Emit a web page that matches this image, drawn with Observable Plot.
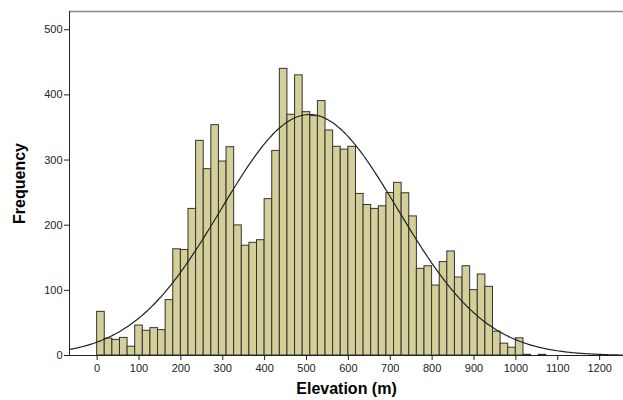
<!DOCTYPE html>
<html>
<head>
<meta charset="utf-8">
<script src="https://cdn.jsdelivr.net/npm/d3@7"></script>
<script src="https://cdn.jsdelivr.net/npm/@observablehq/plot@0.6"></script>
<style>
  html, body { margin: 0; padding: 0; background: #fff; }
  #chart svg { display: block; }
  g[aria-label="y-axis label"] text, g[aria-label="x-axis label"] text {
    font-weight: bold; font-size: 16px; fill: #000;
  }
</style>
</head>
<body>
<div id="chart"></div>
<script>
// Histogram bins (elevation, m): start and width
const binStart = 0;
const binWidth = 18.18;
// Frequency per bin
const counts = [
  67, 26, 24, 27, 13.5, 46, 38, 42, 39, 85,
  163, 162, 225, 329.5, 286, 353.5, 297.7, 319.7, 199.7, 168.5,
  173, 177, 240, 314, 440, 369.5, 430, 373.5, 367.4, 390.5,
  345.4, 320.3, 316, 320.3, 248, 231, 225, 229, 249.5, 265,
  249, 213.5, 133, 137, 107.4, 143.4, 159.7, 119.7, 137, 100.3,
  124.3, 105.4, 36.6, 18.2, 12, 26.4, 1, 0, 1
];
// Normal curve parameters (fitted)
const curveMean = 507;
const curveSd = 211;
// Axes
const xTicks = [0, 100, 200, 300, 400, 500, 600, 700, 800, 900, 1000, 1100, 1200];
const yTicks = [0, 100, 200, 300, 400, 500];
const xDomain = [-66, 1257];
const yDomain = [0, 528];

const bins = counts.map((c, i) => ({
  x1: binStart + i * binWidth,
  x2: binStart + (i + 1) * binWidth,
  count: c
}));
const total = d3.sum(counts);
const curve = d3.range(xDomain[0], xDomain[1] + 1, 4).map(x => ({
  x,
  y: total * binWidth * Math.exp(-0.5 * ((x - curveMean) / curveSd) ** 2) / (curveSd * Math.sqrt(2 * Math.PI))
}));

const chart = Plot.plot({
  width: 623,
  height: 400,
  marginLeft: 69,
  marginRight: 0,
  marginTop: 11,
  marginBottom: 45,
  style: { fontFamily: "'Liberation Sans', Arial, sans-serif", fontSize: "11px", color: "#222", background: "#fff" },
  x: { domain: xDomain, ticks: xTicks, tickFormat: d => String(d), tickSize: 5, tickPadding: 4, label: "Elevation (m)", labelArrow: false, labelAnchor: "center", labelOffset: 38 },
  y: { domain: yDomain, ticks: yTicks, tickFormat: d => String(d), tickSize: 5, tickPadding: 2, label: "Frequency", labelArrow: false, labelAnchor: "center", labelOffset: 56 },
  marks: [
    Plot.rect(bins, { x1: "x1", x2: "x2", y1: 0, y2: "count", fill: "#d4cf98", stroke: "#333", strokeWidth: 1, inset: 0 }),
    Plot.line(curve, { x: "x", y: "y", stroke: "#222", strokeWidth: 1.2, curve: "basis" }),
    Plot.ruleY([0], { stroke: "#222" }),
    Plot.ruleY([yDomain[1]], { stroke: "#888", strokeWidth: 1.5 }),
    Plot.ruleX([xDomain[0]], { stroke: "#222" })
  ]
});
document.getElementById("chart").appendChild(chart);
</script>
</body>
</html>
